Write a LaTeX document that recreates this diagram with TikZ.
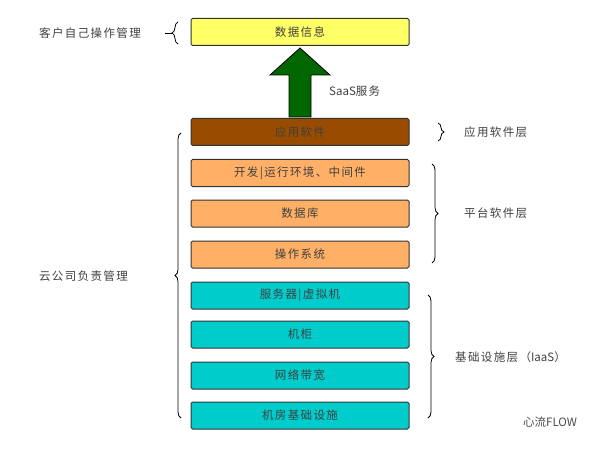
\documentclass[tikz,border=0pt]{standalone}
\usepackage{fontspec}
\setmainfont{Noto Sans CJK SC}[LetterSpace=12]
\newfontfamily\latinf{Noto Sans CJK SC}
\usetikzlibrary{decorations.pathreplacing}
\begin{document}
\begin{tikzpicture}[x=1pt,y=-1pt,
  box/.style={draw=black!80,line width=1pt,rounded corners=1.5pt,minimum width=218pt,minimum height=27pt,inner sep=0pt,font=\fontsize{11.5}{12}\selectfont,text=black!75},
  lbl/.style={font=\fontsize{11.5}{12}\selectfont,inner sep=1pt,text=black!75},
  br/.style={decorate,decoration={brace,amplitude=6pt},line width=0.8pt}]
\useasboundingbox[fill=white] (0,0) rectangle (612,449);
\node[box,fill={rgb,255:red,255;green,255;blue,102}] (d) at (300,32) {数据信息};
\node[box,fill={rgb,255:red,153;green,76;blue,0}] (app) at (300,132) {应用软件};
\node[box,fill={rgb,255:red,255;green,176;blue,102}] (o1) at (300,173) {开发|运行环境、中间件};
\node[box,fill={rgb,255:red,255;green,176;blue,102}] (o2) at (300,213.5) {数据库};
\node[box,fill={rgb,255:red,255;green,176;blue,102}] (o3) at (300,254.5) {操作系统};
\node[box,fill={rgb,255:red,0;green,204;blue,204}] (c1) at (300,295.5) {服务器|虚拟机};
\node[box,fill={rgb,255:red,0;green,204;blue,204}] (c2) at (300,334.5) {机柜};
\node[box,fill={rgb,255:red,0;green,204;blue,204}] (c3) at (300,375.5) {网络带宽};
\node[box,fill={rgb,255:red,0;green,204;blue,204}] (c4) at (300,415.5) {机房基础设施};
% arrow
\draw[fill={rgb,255:red,0;green,102;blue,0},line width=0.8pt] (289,117) -- (289,75) -- (270,75) -- (300,48) -- (330,75) -- (311,75) -- (311,117) -- cycle;
\node[lbl,anchor=west] (saas) at (328,91) {{\latinf SaaS}服务};
% braces
\draw[br] (178,44) -- (178,22);
\draw[line width=0.8pt] (165,33) -- (172,33);
\node[lbl,anchor=east] (t1) at (142,33) {客户自己操作管理};
\draw[br] (181,418) -- (181,133);
\node[lbl,anchor=east] (t2) at (129,276) {云公司负责管理};
\draw[br] (438,123) -- (438,141);
\node[lbl,anchor=west] (t3) at (463,132) {应用软件层};
\draw[br] (432,164) -- (432,263);
\node[lbl,anchor=west] (t4) at (463,213) {平台软件层};
\draw[br] (428,295) -- (428,418);
\node[lbl,anchor=west] (t5) at (454,357) {基础设施层（{\latinf IaaS}）};
\node[lbl,anchor=west,text=black!70,font=\fontsize{11.5}{12}\latinf\itshape] (wm) at (522,422) {心流FLOW};
\end{tikzpicture}
\end{document}
